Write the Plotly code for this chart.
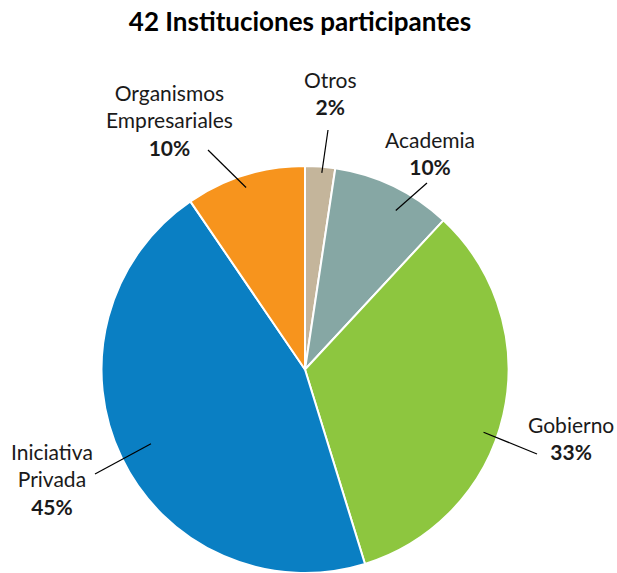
import math
import plotly.graph_objects as go

# ---- data ----
categories = ["Otros", "Academia", "Gobierno", "Iniciativa Privada", "Organismos Empresariales"]
counts = [1, 4, 14, 19, 4]
display_names = ["Otros", "Academia", "Gobierno", "Iniciativa<br>Privada", "Organismos<br>Empresariales"]
title_text = "42 Instituciones participantes"

# ---- style ----
colors = ["#C4B59B", "#86A7A4", "#8DC63F", "#0A7FC3", "#F7941D"]
W, H = 617, 573
ML, MR, MT, MB = 0, 7, 166, 0
FONT = "Lato"

# leader line tip: radius fraction and small angle tweak (deg) per slice
tip_frac = [0.97, 0.90, 0.93, 0.84, 0.94]
tip_dang = [0.6, 4.0, 6.5, 0.0, -0.8]
# label text centres and leader-line start points (px in page)
label_px = [(330, 93), (430, 153), (571, 438), (52, 479), (170, 120)]
leader_start_px = [(328, 130), (427, 183), (537, 454), (95, 474), (208, 150)]

fig = go.Figure(go.Pie(
    labels=categories,
    values=counts,
    sort=False,
    direction="clockwise",
    rotation=0,
    marker=dict(colors=colors, line=dict(color="white", width=2)),
    textinfo="none",
    hoverinfo="label+percent",
    showlegend=False,
))

pw, ph = W - ML - MR, H - MT - MB
R = min(pw, ph) / 2
cx_px, cy_px = ML + pw / 2, MT + ph / 2


def to_paper(px, py):
    return (px - ML) / pw, 1 - (py - MT) / ph


total = sum(counts)
cum = 0
annotations = []
shapes = []
for i, v in enumerate(counts):
    mid = (cum + v / 2) / total * 360 + tip_dang[i]
    cum += v
    th = math.radians(mid)
    tx = cx_px + tip_frac[i] * R * math.sin(th)
    ty = cy_px - tip_frac[i] * R * math.cos(th)
    pct = round(v / total * 100)
    lx, ly = to_paper(*label_px[i])
    annotations.append(dict(
        x=lx, y=ly, xref="paper", yref="paper", xanchor="center", yanchor="middle",
        text=f"{display_names[i]}<br><b>{pct}%</b>", showarrow=False,
        font=dict(family=FONT, size=21, color="#1a1a1a"), align="center",
    ))
    sx, sy = to_paper(*leader_start_px[i])
    ex, ey = to_paper(tx, ty)
    shapes.append(dict(type="line", xref="paper", yref="paper",
                       x0=sx, y0=sy, x1=ex, y1=ey,
                       line=dict(color="black", width=1.2)))

fig.update_layout(
    width=W, height=H,
    margin=dict(l=ML, r=MR, t=MT, b=MB),
    paper_bgcolor="white", plot_bgcolor="white",
    title=dict(text=f"<b>{title_text}</b>", x=300 / W, xanchor="center",
               y=1 - 22 / H, yanchor="middle", yref="container",
               font=dict(family=FONT, size=26, color="black")),
    annotations=annotations,
    shapes=shapes,
)
fig.write_html("out.html", config={"displayModeBar": False},
               post_script="document.body.style.margin='0';document.body.style.overflow='hidden';")
